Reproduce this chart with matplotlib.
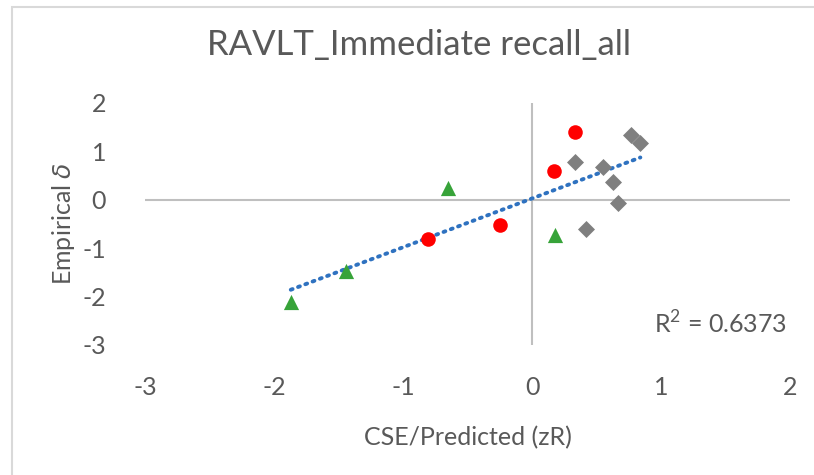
import numpy as np
import matplotlib
matplotlib.use("Agg")
import matplotlib.pyplot as plt
from matplotlib.patches import Rectangle

# Data
red_x = [0.33, 0.17, -0.25, -0.81]
red_y = [1.40, 0.60, -0.53, -0.80]
gray_x = [0.77, 0.84, 0.33, 0.55, 0.63, 0.67, 0.42]
gray_y = [1.34, 1.18, 0.78, 0.68, 0.36, -0.07, -0.61]
green_x = [-0.65, 0.18, -1.44, -1.87]
green_y = [0.25, -0.72, -1.47, -2.11]
r2_label = r"R$^{2}$ = 0.6373"
title = "RAVLT_Immediate recall_all"
xlabel = "CSE/Predicted (zR)"
ylabel = r"Empirical $\delta$"
xticks = [-3, -2, -1, 0, 1, 2]
yticks = [-3, -2, -1, 0, 1, 2]

plt.rcParams['font.family'] = ['Lato', 'DejaVu Sans']
plt.rcParams['mathtext.fontset'] = 'custom'
plt.rcParams['mathtext.rm'] = 'Lato'
plt.rcParams['mathtext.it'] = 'DejaVu Sans:italic'
plt.rcParams['axes.unicode_minus'] = False
txt = '#595959'

fig = plt.figure(figsize=(8.14, 4.75), dpi=100)
fig.patches.append(Rectangle((12/814, -0.1), 1.2, 1 - 7/475 + 0.1, transform=fig.transFigure,
                             fill=False, edgecolor='#D9D9D9', linewidth=1.5))
ax = fig.add_axes([145/814, 1 - 345/475, (790 - 145)/814, (345 - 103)/475])
ax.set_xlim(-3, 2)
ax.set_ylim(-3, 2)
for s in ax.spines.values():
    s.set_visible(False)
ax.axhline(0, color='#BFBFBF', lw=1.5, zorder=1)
ax.axvline(0, color='#BFBFBF', lw=1.5, zorder=1)
ax.tick_params(length=0, labelsize=18, labelcolor=txt, pad=22)
ax.tick_params(axis='y', pad=28)
ax.set_xticks(xticks)
ax.set_yticks(yticks)

ax.scatter(red_x, red_y, marker='o', s=110, color='#FF0000', zorder=3, linewidths=0)
ax.scatter(gray_x, gray_y, marker='D', s=75, color='#7F7F7F', zorder=3, linewidths=0)
ax.scatter(green_x, green_y, marker='^', s=120, color='#37A339', zorder=3, linewidths=0)

all_x = np.array(red_x + gray_x + green_x)
all_y = np.array(red_y + gray_y + green_y)
m, b = np.polyfit(all_x, all_y, 1)
xs = np.array([all_x.min(), all_x.max()])
ax.plot(xs, m * xs + b, linestyle=(0, (0.5, 1.5)), dash_capstyle='round',
        color='#2F72C0', lw=2.8, zorder=2)

ax.text(1.98, -2.28, r2_label, ha='right', va='top', fontsize=18, color=txt)

fig.text(0.515, 1 - 45/475, title, ha='center', va='center', fontsize=25, color=txt)
ax.set_xlabel(xlabel, fontsize=18, color=txt, labelpad=20)
ax.set_ylabel(ylabel, fontsize=18, color=txt, labelpad=4)

fig.savefig('out.png', dpi=100)
